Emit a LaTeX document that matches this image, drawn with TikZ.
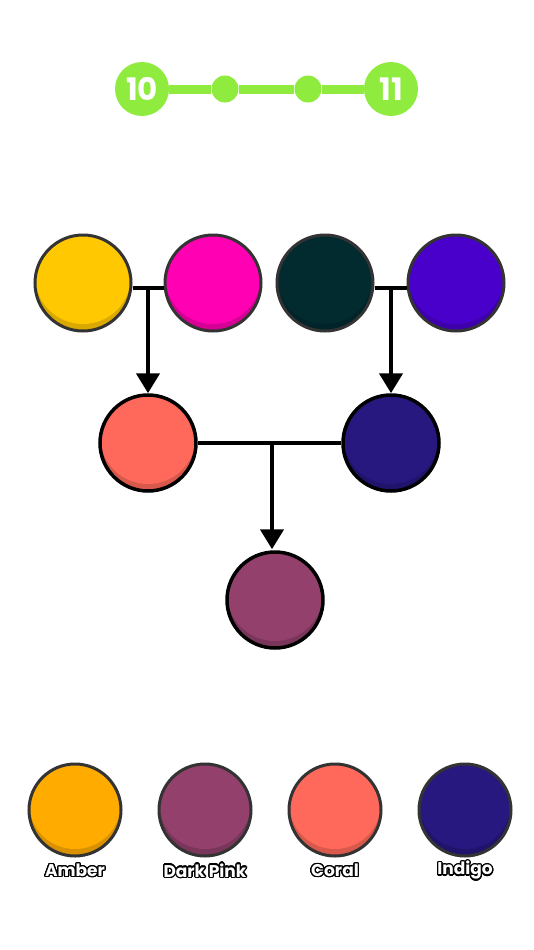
\documentclass[tikz,border=0pt]{standalone}
\usepackage{fontspec}
\usepackage{contour}
\usetikzlibrary{arrows.meta,calc}
\newfontfamily\lblfont{Poppins}
\contourlength{1.3pt}
\contournumber{20}
\definecolor{prog}{HTML}{8FEC3F}
\definecolor{edge}{HTML}{333333}
\definecolor{cAmberY}{HTML}{FFC800}\definecolor{dAmberY}{HTML}{D9A900}
\definecolor{cPink}{HTML}{FF00B3}\definecolor{dPink}{HTML}{D60096}
\definecolor{cTeal}{HTML}{022B30}\definecolor{dTeal}{HTML}{01232A}
\definecolor{cPurple}{HTML}{4A00CB}\definecolor{dPurple}{HTML}{3E00AC}
\definecolor{cCoral}{HTML}{FF695B}\definecolor{dCoral}{HTML}{D9584C}
\definecolor{cIndigo}{HTML}{26187F}\definecolor{dIndigo}{HTML}{1F136B}
\definecolor{cDPink}{HTML}{93416C}\definecolor{dDPink}{HTML}{7A365A}
\definecolor{cAmber}{HTML}{FFAB00}\definecolor{dAmber}{HTML}{D99100}
\tikzset{
  ball/.style n args={3}{circle, minimum size=#3, inner sep=0pt, fill=#2,
    path picture={\fill[#1] ([yshift=7pt]path picture bounding box.center) circle (#3/2);}},
  topball/.style 2 args={ball={#1}{#2}{96pt}, draw=edge, line width=3pt},
  treeball/.style 2 args={ball={#1}{#2}{96pt}, draw=black, line width=3.5pt},
  palball/.style 2 args={ball={#1}{#2}{92pt}, draw=edge, line width=3pt},
  conn/.style={line width=4.5pt, draw=black},
  arr/.style={conn, -{Triangle[length=20pt 0, width=23pt 0]}},
  lbl/.style={text=white, font=\lblfont\bfseries\fontsize{17}{19}\selectfont, inner sep=0pt},
  stepnum/.style={circle, fill=prog, minimum size=54pt, inner sep=0pt, text=white,
    font=\lblfont\bfseries\fontsize{31}{31}\selectfont},
  stepdot/.style={circle, fill=prog, minimum size=27pt, inner sep=0pt}
}
\begin{document}
\begin{tikzpicture}[x=1pt,y=-1pt]
\useasboundingbox[fill=white] (0,0) rectangle (534,950);
% progress bar
\node[stepnum] (s10) at (142,89) {10};
\node[stepnum] (s11) at (391,89) {11};
\node[stepdot] (d1) at (225,89) {};
\node[stepdot] (d2) at (308,89) {};
\draw[prog, line width=9pt] (s10) -- (d1) -- (d2) -- (s11);
% top row
\node[topball={cAmberY}{dAmberY}] (a) at (83,283) {};
\node[topball={cPink}{dPink}] (b) at (213,283) {};
\node[topball={cTeal}{dTeal}] (c) at (325,283) {};
\node[topball={cPurple}{dPurple}] (d) at (456,283) {};
% middle
\node[treeball={cCoral}{dCoral}] (e) at (148,443) {};
\node[treeball={cIndigo}{dIndigo}] (f) at (391,443) {};
% bottom
\node[treeball={cDPink}{dDPink}] (g) at (275,600) {};
% connectors
\coordinate (j1) at (148,288);
\coordinate (j2) at (391,288);
\coordinate (j3) at (272,441);
\draw[conn] (a.east |- j1) -- (b.west |- j1);
\draw[conn] (c.east |- j2) -- (d.west |- j2);
\draw[arr] (j1) -- (e.north);
\draw[arr] (j2) -- (f.north);
\draw[conn, line width=4pt] (e) -- (f);
\draw[arr] (j3) -- ([yshift=1pt]j3 |- g.north);
% palette
\node[palball={cAmber}{dAmber}] (p1) at (75,810) {};
\node[palball={cDPink}{dDPink}] (p2) at (205,810) {};
\node[palball={cCoral}{dCoral}] (p3) at (335,810) {};
\node[palball={cIndigo}{dIndigo}] (p4) at (465,810) {};
\node[lbl] (l1) at (75,871) {\contour{black}{Amber}};
\node[lbl] (l2) at (205,871) {\contour{black}{Dark Pink}};
\node[lbl] (l3) at (335,871) {\contour{black}{Coral}};
\node[lbl] (l4) at (465,871) {\contour{black}{Indigo}};
\end{tikzpicture}
\end{document}
